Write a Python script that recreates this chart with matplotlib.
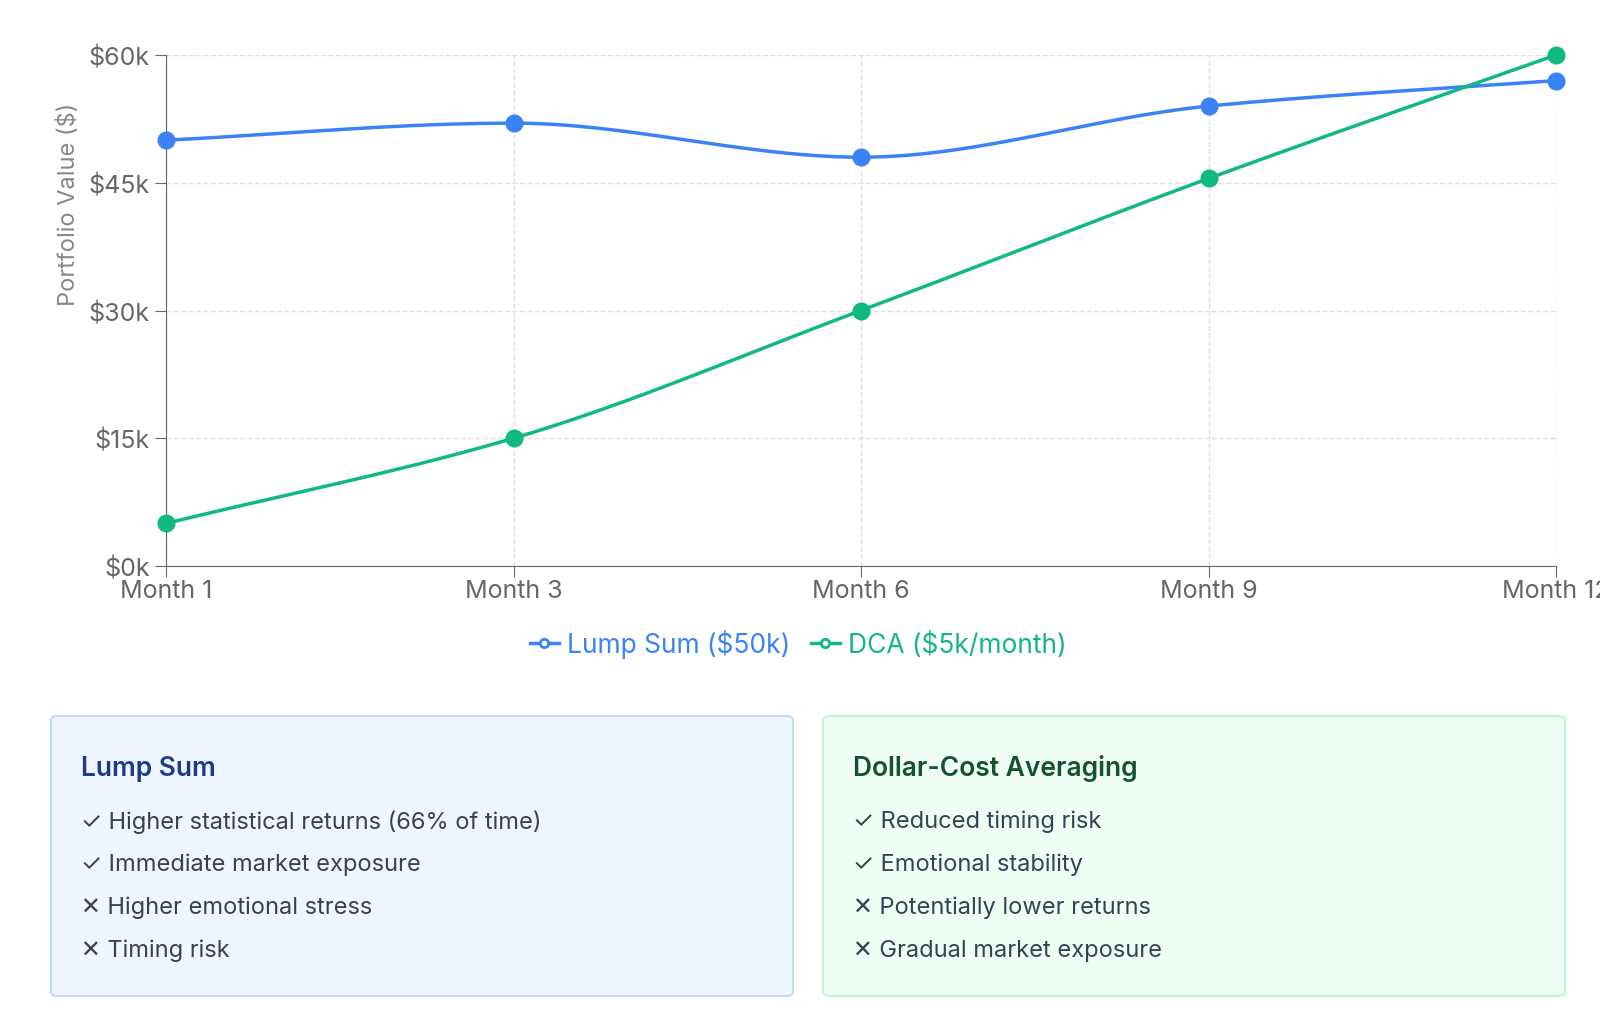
import numpy as np
import matplotlib.pyplot as plt
from matplotlib.patches import FancyBboxPatch
from matplotlib.lines import Line2D

plt.rcParams['font.family'] = ['Inter', 'DejaVu Sans']

months = ["Month 1", "Month 3", "Month 6", "Month 9", "Month 12"]
lump_sum = [50, 52, 48, 54, 57]      # $k
dca = [5, 15, 30, 45.5, 60]          # $k
y_ticks = [0, 15, 30, 45, 60]

lump_pros = ["✓ Higher statistical returns (66% of time)", "✓ Immediate market exposure",
             "✕ Higher emotional stress", "✕ Timing risk"]
dca_pros = ["✓ Reduced timing risk", "✓ Emotional stability",
            "✕ Potentially lower returns", "✕ Gradual market exposure"]

BLUE = "#3b82f6"
GREEN = "#10b981"
W, H = 1600, 1020


def pchip(x, y, n=60):
    # monotone cubic curve, like chart.js "monotone" mode
    x = np.asarray(x, float); y = np.asarray(y, float)
    h = np.diff(x); d = np.diff(y) / h
    m = np.zeros_like(y)
    m[0], m[-1] = d[0], d[-1]
    for i in range(1, len(y) - 1):
        if d[i - 1] * d[i] > 0:
            m[i] = 2 / (1 / d[i - 1] + 1 / d[i])
    xs, ys = [], []
    for i in range(len(h)):
        t = np.linspace(0, 1, n)
        h00 = 2*t**3 - 3*t**2 + 1; h10 = t**3 - 2*t**2 + t
        h01 = -2*t**3 + 3*t**2; h11 = t**3 - t**2
        xs.append(x[i] + t*h[i])
        ys.append(h00*y[i] + h10*h[i]*m[i] + h01*y[i+1] + h11*h[i]*m[i+1])
    return np.concatenate(xs), np.concatenate(ys)


fig = plt.figure(figsize=(16, 10.2), dpi=100)
ax = fig.add_axes([166/W, 1 - 567/H, (1556-166)/W, (567-56)/H])

xi = np.arange(len(months))
for vals, col in [(lump_sum, BLUE), (dca, GREEN)]:
    sx, sy = pchip(xi, vals)
    ax.plot(sx, sy, color=col, lw=2.5, zorder=3)
    ax.plot(xi, vals, 'o', color=col, ms=12, zorder=4, clip_on=False)

ax.set_xlim(0, len(months) - 1)
ax.set_ylim(0, 60)
ax.set_xticks(xi)
ax.set_xticklabels(months)
ax.set_yticks(y_ticks)
ax.set_yticklabels([f"${v}k" for v in y_ticks])
ax.tick_params(colors="#666666", labelsize=18, length=8, color="#666666")
ax.tick_params(axis='x', pad=1)
for s in ["top", "right"]:
    ax.spines[s].set_visible(False)
for s in ["left", "bottom"]:
    ax.spines[s].set_color("#666666")
ax.grid(True, linestyle="--", color="#e0e0e0", lw=1)
fig.text(69/W, 1 - 204/H, "Portfolio Value ($)", rotation=90, ha="center", va="center",
         color="#888888", fontsize=17)

handles = [Line2D([], [], color=BLUE, lw=2.5, marker='o', ms=6, mfc="white", mew=2),
           Line2D([], [], color=GREEN, lw=2.5, marker='o', ms=6, mfc="white", mew=2)]
leg = fig.legend(handles, ["Lump Sum ($50k)", "DCA ($5k/month)"], loc="center",
                 bbox_to_anchor=(798/W, 1 - 645/H), ncol=2, frameon=False, fontsize=19,
                 handlelength=1.1, handletextpad=0.3, columnspacing=0.8)
for t, c in zip(leg.get_texts(), [BLUE, GREEN]):
    t.set_color(c)

for x0, title, items, fc, ec, tc in [
        (51, "Lump Sum", lump_pros, "#eff6ff", "#bfdbfe", "#1e3a8a"),
        (823, "Dollar-Cost Averaging", dca_pros, "#f0fdf4", "#bbf7d0", "#14532d")]:
    box = FancyBboxPatch((x0/W, 1 - 997/H), 742/W, 280/H,
                         boxstyle="round,pad=0,rounding_size=0.004",
                         transform=fig.transFigure, fc=fc, ec=ec, lw=1.5)
    fig.patches.append(box)
    fig.text((x0 + 30)/W, 1 - 769/H, title, fontsize=19, fontweight="semibold",
             color=tc, va="center")
    for k, item in enumerate(items):
        fig.text((x0 + 30)/W, 1 - (822 + 43*k)/H, item, fontsize=17,
                 color="#374151", va="center")

fig.savefig("out.png", dpi=100, facecolor="white")
